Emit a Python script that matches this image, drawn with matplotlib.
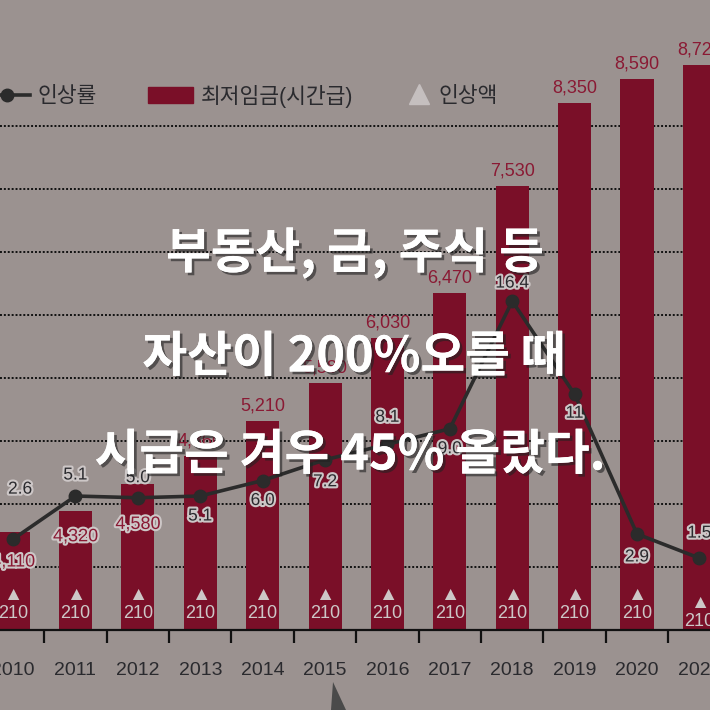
import matplotlib.pyplot as plt
import matplotlib.patheffects as pe
from matplotlib.lines import Line2D
from matplotlib.patches import Patch, Polygon
import numpy as np

# data
years = ['2010', '2011', '2012', '2013', '2014', '2015',
         '2016', '2017', '2018', '2019', '2020', '2021']
wage = [4110, 4320, 4580, 4860, 5210, 5580, 6030, 6470, 7530, 8350, 8590, 8720]
rate = [2.6, 5.1, 5.0, 5.1, 6.0, 7.2, 8.1, 9.0, 16.4, 11, 2.9, 1.5]
rate_text = ['2.6', '5.1', '5.0', '5.1', '6.0', '7.2', '8.1', '9.0', '16.4', '11', '2.9', '1.5']
raise_amt = [210] * 12
legend_labels = ['인상률', '최저임금(시간급)', '인상액']
overlay = ['부동산, 금, 주식 등', '자산이 200%오를 때', '시급은 겨우 45% 올랐다.']

BG = '#9b9290'
BAR = '#7a0f28'
RED_TXT = '#8a1a34'
DARK = '#2a2a2e'
LIGHT = '#cdc7c7'

plt.rcParams['font.family'] = ['Liberation Sans', 'Noto Sans CJK KR', 'DejaVu Sans']

fig = plt.figure(figsize=(7.1, 7.1), dpi=100, facecolor=BG)
ax = fig.add_axes([0, 80 / 710, 1, 630 / 710])
ax.set_facecolor('none')
x = np.arange(len(years))

# dotted guide lines
for n in range(1, 9):
    f = 63 * n / 630
    ax.plot([0, 1], [f, f], transform=ax.transAxes, color='#111111',
            ls=(0, (1, 1)), lw=1.4, zorder=0)

ax.bar(x, wage, width=0.53, color=BAR, zorder=2)

# wage labels
for i, w in enumerate(wage):
    if i < 3:
        dy = [-30, -26, -40][i]
        ax.annotate(f'{w:,}', (x[i], w), xytext=(0, dy), textcoords='offset pixels',
                    ha='center', va='center', fontsize=13, color=RED_TXT, zorder=6,
                    path_effects=[pe.withStroke(linewidth=3, foreground=LIGHT)])
    else:
        ax.annotate(f'{w:,}', (x[i], w), xytext=(0, 15), textcoords='offset pixels',
                    ha='center', va='center', fontsize=13, color=RED_TXT, zorder=6)

# raise amount inside bars
for i, a in enumerate(raise_amt):
    lift = 8 if i == len(years) - 1 else 0
    ax.annotate('▲', (x[i], 3142), xytext=(0, 34 - lift), textcoords='offset pixels',
                ha='center', va='center', fontsize=14, color=LIGHT, zorder=6)
    ax.annotate(str(a), (x[i], 3142), xytext=(0, 16 - lift),
                textcoords='offset pixels', ha='center', va='center',
                fontsize=13, color=LIGHT, zorder=6)

ax.set_xticks(x, years)
ax.set_xticks(np.arange(-0.5, 12, 1), minor=True)
ax.tick_params(axis='x', which='major', length=0, pad=23, labelsize=14, labelcolor=DARK)
ax.tick_params(axis='x', which='minor', length=9.5, width=1.6, color='#111111', direction='out')
ax.set_yticks([])
ax.set_xlim(-0.21, 11.17)
ax.set_ylim(3142, 9367)
for s in ['left', 'right', 'top']:
    ax.spines[s].set_visible(False)
ax.spines['bottom'].set_color('#111111')
ax.spines['bottom'].set_linewidth(1.6)

# increase rate line
ax2 = ax.twinx()
ax2.set_ylim(-46 / 17.25, (630 - 46) / 17.25)
ax2.axis('off')
ax2.plot(x, rate, color='#2b2b2b', lw=2.6, marker='o', ms=9, zorder=3)
offs = [(7, 50), (0, 21), (0, 20), (0, -20), (0, -20), (0, -22),
        (0, 27), (0, -20), (0, 18), (0, -19), (0, -23), (0, 25)]
for i, t in enumerate(rate_text):
    ax2.annotate(t, (x[i], rate[i]), xytext=offs[i], textcoords='offset pixels',
                 ha='center', va='center', fontsize=12.5, color=DARK, zorder=5,
                 path_effects=[pe.withStroke(linewidth=3, foreground=LIGHT)])

# legend (two pieces so the triangle item sits closer)
handles = [Line2D([], [], color='#2b2b2b', lw=2.6, marker='o', ms=9),
           Patch(color=BAR),
           Line2D([], [], ls='none', marker='^', color='#c5bfbf', ms=14)]
leg1 = fig.legend(handles[:2], legend_labels[:2], loc='center left',
                  bbox_to_anchor=(-0.049, 1 - 96 / 710), ncol=2, frameon=False,
                  fontsize=15.5, handlelength=2.1, columnspacing=2.4,
                  handletextpad=0.35, labelcolor=DARK)
fig.legend(handles[2:], legend_labels[2:], loc='center left',
           bbox_to_anchor=(0.547, 1 - 96 / 710), frameon=False,
           fontsize=15.5, handlelength=1.0, handletextpad=0.45, labelcolor=DARK)

# pointer tail at the bottom
fig.patches.append(Polygon([(333 / 710, 1 - 682 / 710), (331 / 710, 0), (346 / 710, 0)],
                           closed=True, transform=fig.transFigure,
                           facecolor='#4a4a4a', edgecolor='none'))

# overlay headline
for s, yp, xp in zip(overlay, [253, 357, 455], [355, 354, 350]):
    fig.text(xp / 710, 1 - yp / 710, s, ha='center', va='center', fontsize=35,
             color='white', fontweight='heavy', family=['Noto Sans CJK KR', 'DejaVu Sans'],
             zorder=10,
             path_effects=[pe.withSimplePatchShadow(offset=(2, -2), shadow_rgbFace='#222222', alpha=0.6),
                           pe.Normal()])

fig.savefig('out.png', dpi=100, facecolor=BG)
